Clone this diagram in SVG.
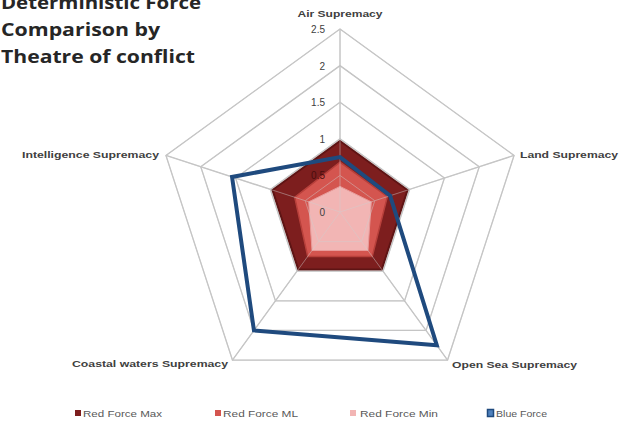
<svg xmlns="http://www.w3.org/2000/svg" width="631" height="422" viewBox="0 0 631 422">
<style>
.grid{fill:none;stroke:#BFBFBF;stroke-width:1.3}
.gridtop{fill:none;stroke:#D0D0D0;stroke-width:1;opacity:0.45}
.title{font-family:"Open Sans","Liberation Sans",sans-serif;font-weight:bold;font-size:17px;fill:#262626}
.axis{font-family:"Liberation Sans",sans-serif;font-weight:bold;font-size:9px;fill:#404040}
.tick{font-family:"Liberation Sans",sans-serif;font-size:10px;fill:#404040;text-anchor:end}
.leg{font-family:"Liberation Sans",sans-serif;font-size:9.5px;fill:#595959}
</style>
<defs>
<g id="gridlines">
<polygon points="340,29 514.05,155.45 447.57,360.05 232.43,360.05 165.95,155.45"/>
<polygon points="340,65.6 479.24,166.76 426.05,330.44 253.95,330.44 200.76,166.76"/>
<polygon points="340,102.2 444.43,178.07 404.54,300.83 275.46,300.83 235.57,178.07"/>
<polygon points="340,138.8 409.62,189.38 383.03,271.22 296.97,271.22 270.38,189.38"/>
<polygon points="340,175.4 374.81,200.69 361.51,241.61 318.49,241.61 305.19,200.69"/>
<path d="M340,212V29M340,212L514.05,155.45M340,212L447.57,360.05M340,212L232.43,360.05M340,212L165.95,155.45"/>
</g>
</defs>
<g id="title">
<text class="title" x="1" y="8.5" textLength="200" lengthAdjust="spacingAndGlyphs">Deterministic Force</text>
<text class="title" x="1" y="35.5" textLength="159" lengthAdjust="spacingAndGlyphs">Comparison by</text>
<text class="title" x="1" y="62.5" textLength="194" lengthAdjust="spacingAndGlyphs">Theatre of conflict</text>
</g>
<g id="grid" class="grid"><use href="#gridlines"/></g>
<g id="series">
<polygon id="red-max" points="340,141 407.53,190.06 381.73,269.44 298.27,269.44 272.47,190.06" fill="#7D1E1E" stroke="#5E1414" stroke-width="2" stroke-linejoin="miter"/>
<polygon id="red-ml" points="340,162.2 387.36,196.61 372.27,256.41 307.73,256.41 294.73,197.29" fill="#D4554F" stroke="#B8403B" stroke-width="1.5"/>
<polygon id="red-min" points="340,186.4 371.29,201.83 367.98,250.51 312.02,250.51 308.71,201.83" fill="#F2B5B4" stroke="#E79B9A" stroke-width="1"/>
</g>
<g class="gridtop"><use href="#gridlines"/></g>
<g id="ticks">
<text class="tick" x="325" y="33">2.5</text>
<text class="tick" x="325" y="69.6">2</text>
<text class="tick" x="325" y="106.2">1.5</text>
<text class="tick" x="325" y="142.8">1</text>
<text class="tick" x="325" y="179.4" fill="#3A0A0A" style="fill:#4A0E0E">0.5</text>
<text class="tick" x="325" y="216">0</text>
</g>
<g id="connectors">
<polygon id="blue-force" points="340,157.1 390.12,195.72 436.81,345.24 253.95,330.44 232.05,176.93" fill="none" stroke="#1F4A7E" stroke-width="4" stroke-linejoin="miter"/>
</g>
<g id="axis-air"><text class="axis" x="340" y="17" text-anchor="middle" textLength="85" lengthAdjust="spacingAndGlyphs">Air Supremacy</text></g>
<g id="axis-land"><text class="axis" x="520" y="158" textLength="98" lengthAdjust="spacingAndGlyphs">Land Supremacy</text></g>
<g id="axis-opensea"><text class="axis" x="452" y="368" textLength="125" lengthAdjust="spacingAndGlyphs">Open Sea Supremacy</text></g>
<g id="axis-coastal"><text class="axis" x="72" y="367" textLength="156" lengthAdjust="spacingAndGlyphs">Coastal waters Supremacy</text></g>
<g id="axis-intel"><text class="axis" x="22" y="158" textLength="137" lengthAdjust="spacingAndGlyphs">Intelligence Supremacy</text></g>
<g id="legend">
<rect x="75" y="410" width="6" height="6" fill="#7D1E1E"/>
<text class="leg" x="83" y="417" textLength="79" lengthAdjust="spacingAndGlyphs">Red Force Max</text>
<rect x="215" y="410" width="6" height="6" fill="#D4554F"/>
<text class="leg" x="223" y="417" textLength="75" lengthAdjust="spacingAndGlyphs">Red Force ML</text>
<rect x="350" y="410" width="6" height="6" fill="#F2B5B4"/>
<text class="leg" x="360" y="417" textLength="78" lengthAdjust="spacingAndGlyphs">Red Force Min</text>
<rect x="487.5" y="409.5" width="6" height="7" fill="#4F81BD" stroke="#1F4A7E" stroke-width="1.5"/>
<text class="leg" x="496" y="417" textLength="51" lengthAdjust="spacingAndGlyphs">Blue Force</text>
</g>
</svg>
